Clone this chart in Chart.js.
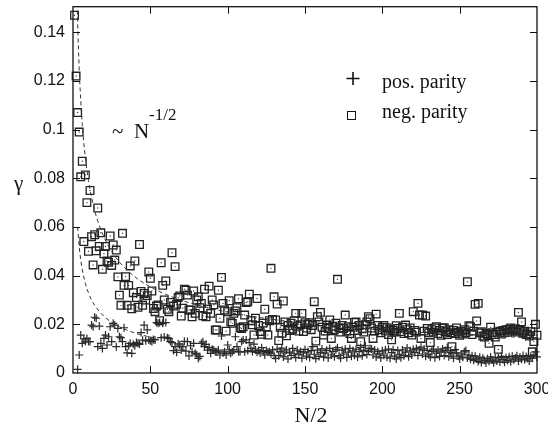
<!DOCTYPE html>
<html>
<head>
    <title>Decay rate vs N/2</title>
    <script src="https://cdn.jsdelivr.net/npm/chart.js"></script>
    <style>
        body {
            margin: 0;
            padding: 0;
            background: #ffffff;
        }

        .chart-box {
            width: 548px;
            height: 431px;
        }
    </style>
</head>
<body>
    <div class="chart-box">
        <canvas id="gammaChart"></canvas>
    </div>

    <script>
        // N/2 runs over the integers 1..300
        const nHalf = Array.from({ length: 300 }, (_, i) => i + 1);

        // gamma, negative parity (squares), one value per N/2
        const negParity = [
            0.147, 0.122, 0.107, 0.099, 0.0806, 0.087, 0.054, 0.0814, 0.070, 0.050,
            0.075, 0.056, 0.0444, 0.0568, 0.0502, 0.0678, 0.052, 0.0576, 0.0426, 0.049,
            0.052, 0.046, 0.0455, 0.0563, 0.0442, 0.0526, 0.0464, 0.0505, 0.0395, 0.032,
            0.0278, 0.0574, 0.036, 0.0396, 0.0278, 0.036, 0.044, 0.0264, 0.033, 0.046,
            0.031, 0.027, 0.0528, 0.0335, 0.0278, 0.0327, 0.030, 0.0318, 0.0415, 0.0389,
            0.0337, 0.0265, 0.0252, 0.0275, 0.028, 0.0215, 0.0453, 0.036, 0.030, 0.0378,
            0.0262, 0.0252, 0.029, 0.0494, 0.0275, 0.0437, 0.0282, 0.031, 0.0317, 0.0234,
            0.0266, 0.0344, 0.034, 0.032, 0.0259, 0.0259, 0.0231, 0.0337, 0.0245, 0.030,
            0.0313, 0.0268, 0.0286, 0.0235, 0.0344, 0.0231, 0.0262, 0.0357, 0.0245, 0.030,
            0.028, 0.0177, 0.0177, 0.034, 0.0225, 0.0393, 0.0286, 0.0259, 0.0172, 0.0252,
            0.0297, 0.021, 0.0204, 0.0245, 0.0255, 0.0268, 0.0305, 0.0186, 0.0183, 0.019,
            0.0238, 0.029, 0.0293, 0.0324, 0.0215, 0.0198, 0.0156, 0.0225, 0.0306, 0.0195,
            0.017, 0.0159, 0.0205, 0.0262, 0.019, 0.0156, 0.0215, 0.043, 0.022, 0.0313,
            0.0218, 0.0283, 0.0133, 0.0188, 0.0163, 0.0296, 0.021, 0.0153, 0.0195, 0.0175,
            0.0205, 0.018, 0.0215, 0.0245, 0.0192, 0.0172, 0.0198, 0.0245, 0.017, 0.0207,
            0.0185, 0.020, 0.0207, 0.0178, 0.0195, 0.0293, 0.0131, 0.0231, 0.021, 0.0249,
            0.0188, 0.0156, 0.0172, 0.0197, 0.0183, 0.0218, 0.0142, 0.0192, 0.0178, 0.0205,
            0.0385, 0.0186, 0.0168, 0.0195, 0.0183, 0.0238, 0.0172, 0.019, 0.0162, 0.0142,
            0.0188, 0.0208, 0.021, 0.0175, 0.0195, 0.0129, 0.0182, 0.0168, 0.0198, 0.021,
            0.0231, 0.0223, 0.0185, 0.0142, 0.0172, 0.0242, 0.0195, 0.0178, 0.0165, 0.0188,
            0.0195, 0.0172, 0.0186, 0.0158, 0.018, 0.0136, 0.0175, 0.0168, 0.0194, 0.0183,
            0.0245, 0.017, 0.0188, 0.0162, 0.0197, 0.0178, 0.0165, 0.0185, 0.0156, 0.0252,
            0.0175, 0.0168, 0.0286, 0.0238, 0.0142, 0.0238, 0.0172, 0.0234, 0.0183, 0.0165,
            0.0125, 0.0178, 0.0168, 0.0185, 0.019, 0.0162, 0.0175, 0.0155, 0.0184, 0.0186,
            0.017, 0.0158, 0.0178, 0.0165, 0.0108, 0.0175, 0.0162, 0.0185, 0.0168, 0.0155,
            0.0172, 0.016, 0.0178, 0.0165, 0.0375, 0.0194, 0.019, 0.0158, 0.0172, 0.0282,
            0.0214, 0.0286, 0.0165, 0.017, 0.0152, 0.0148, 0.0162, 0.0158, 0.0122, 0.0188,
            0.0165, 0.0158, 0.0148, 0.0168, 0.0097, 0.0172, 0.016, 0.0175, 0.0166, 0.0178,
            0.0167, 0.018, 0.0185, 0.0172, 0.0178, 0.0182, 0.0168, 0.0249, 0.0175, 0.021,
            0.0165, 0.0172, 0.0158, 0.016, 0.0152, 0.017, 0.0087, 0.0129, 0.020, 0.0155
        ];

        // gamma, positive parity (crosses); null where no mark is drawn
        const posParity = [
            null, null, 0.0015, 0.0074, 0.0156, 0.0122, 0.014, 0.0129, 0.0142, 0.0129,
            0.0129, 0.0197, 0.019, 0.0229, 0.0225, 0.0108, 0.0193, 0.0122, 0.0101, 0.0142,
            0.0156, 0.0115, 0.0149, 0.019, 0.0129, 0.0204, 0.0197, 0.0108, 0.0183, 0.0149,
            0.0145, 0.0129, 0.0186, 0.0108, 0.0083, 0.0112, 0.0122, 0.0081, 0.0118, 0.0112,
            0.0125, 0.0122, 0.0118, 0.0166, 0.0135, 0.0197, 0.0132, 0.0177, 0.0136, 0.0132,
            0.0129, 0.0138, 0.0136, 0.0207, 0.0204, 0.0208, 0.0145, 0.0204, 0.0148, 0.0207,
            0.0145, 0.0142, 0.0129, 0.0125, 0.0092, 0.0108, 0.0085, 0.012, 0.0115, 0.0094,
            0.0108, 0.013, 0.009, 0.0129, 0.007, 0.0112, 0.0087, 0.0122, 0.0081, 0.0075,
            0.006, 0.0068, 0.0122, 0.0128, 0.0108, 0.0118, 0.0094, 0.0105, 0.0081, 0.0098,
            0.0094, 0.0087, 0.0087, 0.0094, 0.0074, 0.0152, 0.0082, 0.0087, 0.0074, 0.0115,
            0.0095, 0.0081, 0.0087, 0.0095, 0.0149, 0.0108, 0.0088, 0.0087, 0.0129, 0.0136,
            0.0087, 0.0136, 0.0092, 0.0125, 0.0101, 0.0088, 0.0119, 0.0094, 0.0085, 0.0092,
            0.0082, 0.0104, 0.0088, 0.0074, 0.0092, 0.0085, 0.0087, 0.0079, 0.0095, 0.0072,
            0.006, 0.0098, 0.0071, 0.0089, 0.0102, 0.0066, 0.0083, 0.0095, 0.0058, 0.0086,
            0.0072, 0.0101, 0.0079, 0.0063, 0.0094, 0.0075, 0.0088, 0.0061, 0.0083, 0.0097,
            0.0069, 0.0087, 0.0064, 0.0092, 0.0108, 0.0077, 0.0059, 0.0094, 0.0068, 0.0085,
            0.0099, 0.0065, 0.0082, 0.0093, 0.0062, 0.0101, 0.0074, 0.0089, 0.0067, 0.0096,
            0.0104, 0.0072, 0.0061, 0.0094, 0.0078, 0.0099, 0.0064, 0.0086, 0.0101, 0.0069,
            0.0091, 0.0073, 0.0098, 0.0066, 0.0088, 0.0105, 0.0071, 0.0093, 0.0112, 0.0076,
            0.0089, 0.0101, 0.0099, 0.0074, 0.0095, 0.0066, 0.0088, 0.0079, 0.0062, 0.0091,
            0.0073, 0.0094, 0.0065, 0.0098, 0.0061, 0.0084, 0.0096, 0.0069, 0.0058, 0.0092,
            0.0077, 0.0063, 0.0095, 0.0071, 0.0086, 0.0103, 0.0067, 0.0091, 0.0074, 0.0098,
            0.0084, 0.0101, 0.0072, 0.0095, 0.0106, 0.0078, 0.0099, 0.0069, 0.0093, 0.0075,
            0.0066, 0.0089, 0.0098, 0.0063, 0.0082, 0.0094, 0.0068, 0.0087, 0.0099, 0.0072,
            0.0092, 0.0104, 0.0067, 0.0085, 0.0079, 0.0061, 0.0096, 0.0083, 0.0069, 0.0058,
            0.0078, 0.0065, 0.0087, 0.0092, 0.0062, 0.0074, 0.0056, 0.0071, 0.0052, 0.0069,
            0.0058, 0.0047, 0.0065, 0.0043, 0.0061, 0.0052, 0.0041, 0.0059, 0.0048, 0.0066,
            0.0053, 0.0042, 0.0062, 0.0049, 0.0064, 0.0045, 0.0068, 0.0055, 0.0044, 0.0063,
            0.0051, 0.0067, 0.0046, 0.0069, 0.0054, 0.0062, 0.0071, 0.0049, 0.0066, 0.0057,
            0.0072, 0.0054, 0.0068, 0.006, 0.0049, 0.0069, 0.0061, 0.0074, 0.0087, 0.0066
        ];

        // dashed ~N^-1/2 guide curves
        const upperCurveX = [2.8, 3, 4, 5, 6, 7, 8, 10, 12, 15, 20, 25, 30, 40, 50, 60, 70, 80, 100, 125, 150, 200, 250, 300];
        const upperCurveY = [0.149, 0.144, 0.125, 0.112, 0.102, 0.0945, 0.0884, 0.079, 0.0722, 0.0645, 0.0559, 0.05, 0.0456, 0.0395, 0.0354, 0.0323, 0.0299, 0.028, 0.025, 0.0224, 0.0204, 0.0177, 0.0158, 0.0144];
        const lowerCurveX = [3, 4, 5, 6, 8, 10, 12, 15, 20, 25, 30, 35, 40, 45, 52];
        const lowerCurveY = [0.06, 0.052, 0.0465, 0.0425, 0.0368, 0.0329, 0.030, 0.0269, 0.0233, 0.0208, 0.019, 0.0176, 0.0164, 0.0155, 0.0145];

        const xTicks = [0, 50, 100, 150, 200, 250, 300];
        const yTicks = [0, 0.02, 0.04, 0.06, 0.08, 0.1, 0.12, 0.14];

        function toPoints(xs, ys) {
            return xs.map((x, i) => ({ x: x, y: ys[i] }));
        }

        // box frame with inward ticks on all four sides, plus the text labels
        const framePlugin = {
            id: 'framePlugin',
            afterDraw(chart) {
                const ctx = chart.ctx;
                const area = chart.chartArea;
                const xs = chart.scales.x;
                const ys = chart.scales.y;
                const len = 7;

                ctx.save();
                ctx.strokeStyle = '#111';
                ctx.lineWidth = 1.3;
                ctx.strokeRect(area.left, area.top, area.right - area.left, area.bottom - area.top);

                ctx.lineWidth = 1;
                ctx.beginPath();
                xTicks.slice(1, -1).forEach(v => {
                    const px = Math.round(xs.getPixelForValue(v)) + 0.5;
                    ctx.moveTo(px, area.bottom);
                    ctx.lineTo(px, area.bottom - len);
                    ctx.moveTo(px, area.top);
                    ctx.lineTo(px, area.top + len);
                });
                yTicks.slice(1).forEach(v => {
                    const py = Math.round(ys.getPixelForValue(v)) + 0.5;
                    ctx.moveTo(area.left, py);
                    ctx.lineTo(area.left + len, py);
                    ctx.moveTo(area.right, py);
                    ctx.lineTo(area.right - len, py);
                });
                ctx.stroke();

                // axis titles
                ctx.fillStyle = '#111';
                ctx.textBaseline = 'alphabetic';
                ctx.font = '21px "Liberation Serif", "DejaVu Serif", serif';
                ctx.textAlign = 'left';
                ctx.fillText('\u03b3', 14, 190);
                ctx.font = '22px "Liberation Serif", "DejaVu Serif", serif';
                ctx.textAlign = 'center';
                ctx.fillText('N/2', 311, 422);

                // annotation ~ N^-1/2
                ctx.textAlign = 'left';
                ctx.font = '21px "Liberation Serif", "DejaVu Serif", serif';
                ctx.fillText('~', 112, 138);
                ctx.fillText('N', 134, 138);
                ctx.font = '17px "Liberation Serif", "DejaVu Serif", serif';
                ctx.fillText('-1/2', 149, 120);

                // legend
                ctx.font = '20px "Liberation Serif", "DejaVu Serif", serif';
                ctx.fillText('pos. parity', 382, 88);
                ctx.fillText('neg. parity', 382, 118);
                ctx.lineWidth = 1.6;
                ctx.beginPath();
                ctx.moveTo(346.5, 78.5);
                ctx.lineTo(359.5, 78.5);
                ctx.moveTo(353, 72);
                ctx.lineTo(353, 85);
                ctx.stroke();
                ctx.lineWidth = 1;
                ctx.strokeRect(347.5, 111.5, 8, 8);
                ctx.restore();
            }
        };

        const markColor = '#222';

        new Chart(document.getElementById('gammaChart'), {
            type: 'scatter',
            data: {
                datasets: [
                    {
                        label: 'N^-1/2 upper',
                        data: toPoints(upperCurveX, upperCurveY),
                        showLine: true,
                        borderColor: '#333',
                        borderWidth: 1,
                        borderDash: [4, 3],
                        pointRadius: 0,
                        cubicInterpolationMode: 'monotone'
                    },
                    {
                        label: 'N^-1/2 lower',
                        data: toPoints(lowerCurveX, lowerCurveY),
                        showLine: true,
                        borderColor: '#333',
                        borderWidth: 1,
                        borderDash: [4, 3],
                        pointRadius: 0,
                        cubicInterpolationMode: 'monotone'
                    },
                    {
                        label: 'pos. parity',
                        data: toPoints(nHalf, posParity),
                        pointStyle: 'cross',
                        pointRadius: 4,
                        borderColor: '#2a2a2a',
                        backgroundColor: '#2a2a2a',
                        pointBorderWidth: 1.2,
                        clip: false
                    },
                    {
                        label: 'neg. parity',
                        data: toPoints(nHalf, negParity),
                        pointStyle: 'rect',
                        pointRadius: 5.4,
                        borderColor: markColor,
                        backgroundColor: 'rgba(0,0,0,0)',
                        pointBorderWidth: 1.3,
                        clip: false
                    },
                    {
                        label: 'neg. parity dots',
                        data: toPoints(nHalf, negParity),
                        pointStyle: 'circle',
                        pointRadius: 0.7,
                        borderColor: '#444',
                        backgroundColor: '#444',
                        pointBorderWidth: 0,
                        clip: false
                    }
                ]
            },
            options: {
                responsive: true,
                maintainAspectRatio: false,
                animation: false,
                layout: {
                    padding: { left: 0, top: 6, right: 11, bottom: 0 }
                },
                plugins: {
                    legend: { display: false },
                    tooltip: { enabled: false }
                },
                scales: {
                    x: {
                        type: 'linear',
                        min: 0,
                        max: 300,
                        grid: { display: false, drawTicks: false, tickLength: 0 },
                        border: { display: false },
                        ticks: {
                            stepSize: 50,
                            padding: 7,
                            color: '#111',
                            maxRotation: 0,
                            font: { family: '"Liberation Sans", Arial, sans-serif', size: 16 }
                        },
                        afterFit(scale) {
                            scale.height = 58;
                            scale.paddingLeft = 0;
                            scale.paddingRight = 0;
                        }
                    },
                    y: {
                        type: 'linear',
                        min: 0,
                        max: 0.1505,
                        grid: { display: false, drawTicks: false, tickLength: 0 },
                        border: { display: false },
                        ticks: {
                            stepSize: 0.02,
                            includeBounds: false,
                            padding: 8,
                            color: '#111',
                            font: { family: '"Liberation Sans", Arial, sans-serif', size: 16 },
                            callback: v => String(+v.toFixed(2))
                        },
                        afterFit(scale) {
                            scale.width = 73;
                            scale.paddingTop = 0;
                            scale.paddingBottom = 0;
                        }
                    }
                }
            },
            plugins: [framePlugin]
        });
    </script>
</body>
</html>
